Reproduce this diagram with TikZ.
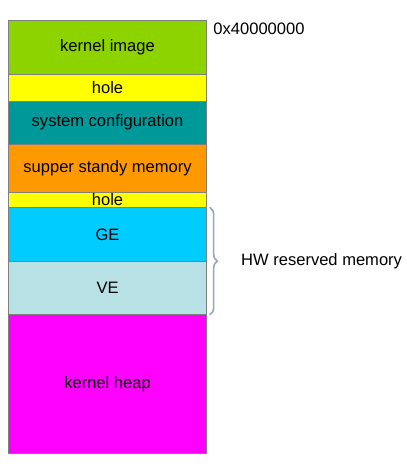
\documentclass[tikz,border=0pt]{standalone}
\usepackage{fontspec}
\setmainfont{Liberation Sans}
\definecolor{kernelGreen}{HTML}{8CD300}
\definecolor{holeYellow}{HTML}{FFFF00}
\definecolor{sysTeal}{HTML}{009999}
\definecolor{standbyOrange}{HTML}{FF9900}
\definecolor{geBlue}{HTML}{00CCFF}
\definecolor{veBlue}{HTML}{B7E1E4}
\definecolor{heapMagenta}{HTML}{FF00FF}
\definecolor{borderGray}{HTML}{7F7F7F}
\definecolor{braceGray}{HTML}{8FA9BA}
\usetikzlibrary{positioning, decorations.pathreplacing}

\begin{document}
\begin{tikzpicture}[
    font=\fontsize{12.4}{14}\selectfont,
    memblock/.style={draw=borderGray, line width=0.75pt, minimum width=148.5pt,
                     inner sep=0pt, outer sep=0pt},
    node distance=0pt
  ]
  \useasboundingbox (0,0) rectangle (305.25pt,-351.75pt);

  % memory map, top to bottom
  \node[memblock, fill=kernelGreen, minimum height=40.1pt, anchor=north west] (kernel) at (6.4pt,-15.5pt) {kernel image};
  \node[memblock, fill=holeYellow, minimum height=20.25pt, below=of kernel] (holeA) {hole};
  \node[memblock, fill=sysTeal, minimum height=32.25pt, below=of holeA] (sysconf) {system configuration};
  \node[memblock, fill=standbyOrange, minimum height=36pt, below=of sysconf] (standby) {supper standy memory};
  \node[memblock, fill=holeYellow, minimum height=11.6pt, below=of standby] (holeB) {hole};
  \node[memblock, fill=geBlue, minimum height=40.5pt, below=of holeB] (ge) {GE};
  \node[memblock, fill=veBlue, minimum height=39.75pt, below=of ge] (ve) {VE};
  \node[memblock, fill=heapMagenta, minimum height=104.25pt, below=of ve] (heap) {kernel heap};

  \node[anchor=north west, inner sep=0pt] (addr) at ([xshift=5pt, yshift=-1.7pt]kernel.north east) {0x40000000};

  \draw[decorate, decoration={brace, amplitude=5.5pt}, draw=braceGray, line width=1.2pt, line cap=round]
    ([xshift=2.6pt]ge.north east) -- node[right=19.5pt] (hwlabel) {HW reserved memory} ([xshift=2.6pt]ve.south east);
\end{tikzpicture}
\end{document}
